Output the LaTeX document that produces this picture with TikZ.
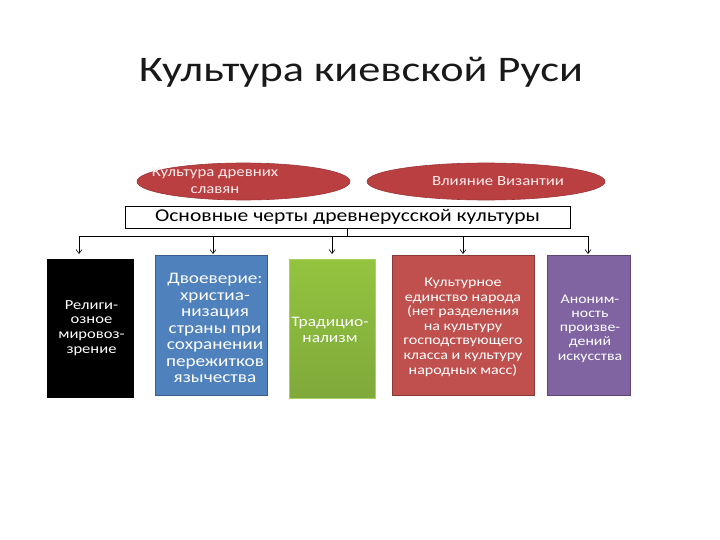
\documentclass[tikz,border=0pt]{standalone}
\usepackage{fontspec}
\setmainfont{Carlito}
\newfontfamily\widefont[FakeStretch=1.2]{Carlito}
\newfontfamily\titlefont[FakeStretch=1.23]{Carlito}
\usetikzlibrary{shapes.geometric,arrows.meta}
\definecolor{ellred}{HTML}{BA3F41}
\definecolor{ellborder}{HTML}{A03235}
\definecolor{cblue}{HTML}{4F81BD}
\definecolor{cblueb}{HTML}{385D8A}
\definecolor{cgreenT}{HTML}{93C43F}
\definecolor{cgreenB}{HTML}{7FA93A}
\definecolor{cred}{HTML}{C0504D}
\definecolor{credb}{HTML}{8C3836}
\definecolor{cpurple}{HTML}{8064A2}
\definecolor{cpurpleb}{HTML}{5C4776}
\tikzset{
  ell/.style={ellipse, fill=ellred, draw=ellborder, line width=0.6pt, inner sep=0pt},
  elltext/.style={text=white!92!red, align=center, font=\widefont\fontsize{14}{17}\selectfont, inner sep=0pt},
  colbox/.style={rectangle, anchor=north west, inner sep=0pt, line width=0.7pt},
  boxtext/.style={text=white, align=center, inner sep=0pt},
  conn/.style={line width=0.6pt, draw=black},
  arr/.style={conn, -{Straight Barb[length=4pt,width=6pt]}},
}
\begin{document}
\begin{tikzpicture}[x=1pt,y=-1pt]
\useasboundingbox (0,0) rectangle (720,540);
\node[font=\titlefont\fontsize{36}{40}\selectfont, text=black!90] (title) at (361,72) {Культура киевской Руси};
\node[ell, minimum width=213pt, minimum height=37pt] (e1) at (243.5,181.5) {};
\node[elltext] (e1t) at (215,181) {Культура древних\\славян};
\node[ell, minimum width=238pt, minimum height=37pt] (e2) at (486,181.5) {};
\node[elltext] (e2t) at (498,181.5) {Влияние Византии};
\node[draw=black, line width=0.8pt, fill=white, minimum width=445pt, minimum height=22pt, inner sep=0pt, font=\widefont\fontsize{18}{19}\selectfont] (main) at (347.5,217) {Основные черты древнерусской культуры};
\node[colbox, fill=black, minimum width=87pt, minimum height=139pt] (b1) at (47,259) {};
\node[boxtext, font=\widefont\fontsize{13.8}{14.7}\selectfont] (t1) at (91.5,328) {Религи-\\озное\\мировоз-\\зрение};
\node[colbox, fill=cblue, draw=cblueb, minimum width=112pt, minimum height=140pt] (b2) at (155,255) {};
\node[boxtext, font=\widefont\fontsize{16}{16.5}\selectfont] (t2) at (215,328) {Двоеверие:\\христиа-\\низация\\страны при\\сохранении\\пережитков\\язычества};
\node[colbox, top color=cgreenT, bottom color=cgreenB, draw=cgreenT!80!white, minimum width=86pt, minimum height=139pt] (b3) at (289,259) {};
\node[boxtext, font=\widefont\fontsize{14.5}{16}\selectfont] (t3) at (330,330) {Традицио-\\нализм};
\node[colbox, fill=cred, draw=credb, minimum width=142pt, minimum height=140pt] (b4) at (392,255) {};
\node[boxtext, font=\widefont\fontsize{13.4}{14.6}\selectfont] (t4) at (463,327) {Культурное\\единство народа\\(нет разделения\\на культуру\\господствующего\\класса и культуру\\народных масс)};
\node[colbox, fill=cpurple, draw=cpurpleb, minimum width=83pt, minimum height=140pt] (b5) at (547,255) {};
\node[boxtext, font=\widefont\fontsize{13.2}{14.3}\selectfont] (t5) at (590,328.5) {Аноним-\\ность\\произве-\\дений\\искусства};
\coordinate (bus) at (347.5,236);
\coordinate (s1) at (79,236);
\coordinate (s5) at (588,236);
\coordinate (a1) at (79,254);
\coordinate (a2) at (213,254);
\coordinate (a3) at (332,254);
\coordinate (a4) at (463,254);
\coordinate (a5) at (588,254);
\draw[conn] (main.south -| bus) -- (bus);
\draw[conn] (s1) -- (s5);
\draw[arr] (s1) -- (a1);
\draw[arr] (a2 |- bus) -- (a2);
\draw[arr] (a3 |- bus) -- (a3);
\draw[arr] (a4 |- bus) -- (a4);
\draw[arr] (s5) -- (a5);
\end{tikzpicture}
\end{document}
